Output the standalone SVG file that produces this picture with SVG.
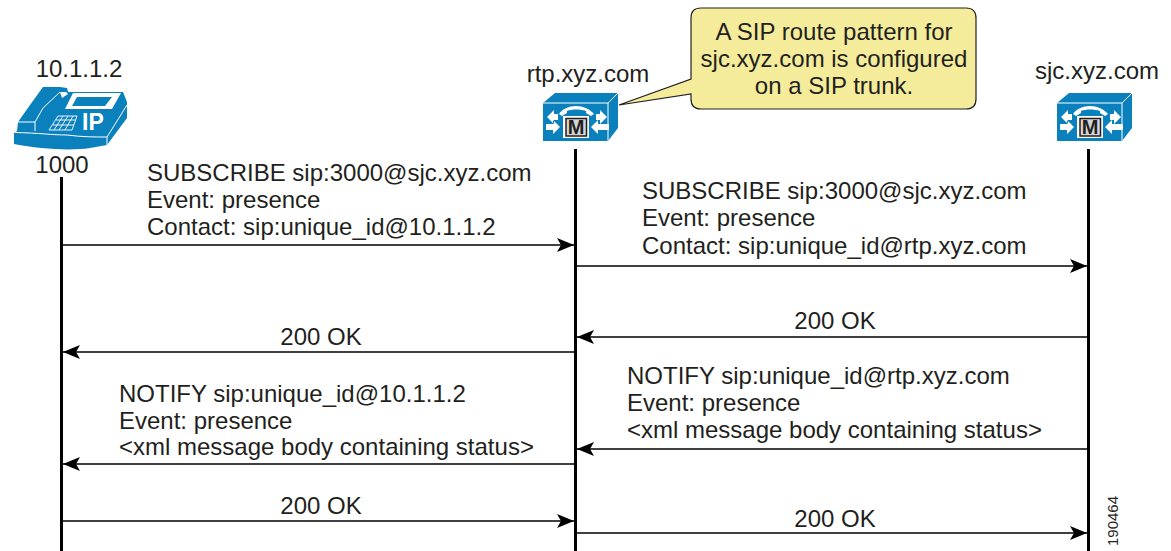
<svg xmlns="http://www.w3.org/2000/svg" width="1171" height="551" viewBox="0 0 1171 551">
<style>
text{font-family:"Liberation Sans",Arial,sans-serif;font-size:24px;fill:#231f20}
.m{text-anchor:middle}
.life{stroke:#000;stroke-width:3;fill:none}
.msg{stroke:#000;stroke-width:1.4;fill:none;marker-end:url(#ah)}
.b{fill:#0a81bd}
.w{fill:#fff}
.ln{stroke:#fff;stroke-width:1;fill:none}
</style>
<defs>
<marker id="ah" markerUnits="userSpaceOnUse" markerWidth="18" markerHeight="14" refX="17" refY="7" orient="auto-start-reverse"><path d="M0 0L17 7L0 14L4 7Z" fill="#000"/></marker>
<g id="srv">
<path class="b" d="M0 10L12 0H75V35L65 48H0Z"/>
<path class="ln" d="M0 10H65L75 0M65 10V48"/>
<path class="w" d="M4 24L11 17V21H15V27H11V31ZM64 24L57 17V21H53V27H57V31ZM17 34L10 27V31H3V37H10V41ZM48 34L55 27V31H66V37H55V41Z"/>
<path class="w" d="M16 21C19 16 26 13 33 13C40 13 47 16 51 21L48 23L43 20V18C37 16 29 16 24 18V20L19 23Z"/>
<rect class="w" x="20" y="23" width="26" height="22"/>
<rect x="23" y="25.500" width="20.500" height="17.500" fill="#d5d5d5" stroke="#231f20" stroke-width="1.500"/>
<text x="33.200" y="41" class="m" style="font-size:20px;font-weight:bold">M</text>
</g>
</defs>
<g id="connectors">
<path class="life" d="M61.500 177V551M575.500 149V551M1088.500 149V551"/>
<path class="msg" d="M62 245H574"/>
<path class="msg" d="M576 266H1087"/>
<path class="msg" d="M1088 337H577"/>
<path class="msg" d="M575 352H63"/>
<path class="msg" d="M1088 449H577"/>
<path class="msg" d="M575 464H63"/>
<path class="msg" d="M62 521H574"/>
<path class="msg" d="M576 533H1087"/>
</g>
<g id="phone">
<path class="b" d="M14 133V144C40 149 70 151 90 148L107 145L127 118V102L123 92H68L67 88L60 87H43L30 105L18 122L17 131Z"/>
<path class="ln" d="M15 132.500C40 133 52 135 67 135C82 137 95 137 107 137L127 105M107 137V145M18 122H35V131M35 122L43 108L60 92"/>
<path class="w" d="M65 109L73 93H121L112 109Z"/>
<path class="b" d="M72 106L77 97H112L105 106Z"/>
<path class="w" d="M60 92L66 92L68 94L62 98Z"/>
<path class="ln" style="stroke-width:.9" d="M49 130L58 116H77L72 130ZM56 120H76M53 125H74M63 116L54 130M68 116L59 130M73 116L65 130"/>
<text x="82" y="130" style="font-size:23px;font-weight:bold;fill:#fff">IP</text>
</g>
<g id="rtp"><use href="#srv" x="543" y="93"/></g>
<g id="sjc"><use href="#srv" x="1057" y="93"/></g>
<g id="callout">
<path d="M691 18Q691 8 701 8H966Q976 8 976 18V99Q976 109 966 109H701Q691 109 691 99V94L619 105L691 79Z" fill="#f4ec9b" stroke="#231f20" stroke-width="1.200"/>
<text x="834" y="40" class="m">A SIP route pattern for</text>
<text x="834" y="67" class="m">sjc.xyz.com is configured</text>
<text x="834" y="94" class="m">on a SIP trunk.</text>
</g>
<text x="79" y="77" class="m">10.1.1.2</text>
<text x="62" y="173" class="m">1000</text>
<text x="588" y="82" class="m">rtp.xyz.com</text>
<text x="1097" y="79" class="m">sjc.xyz.com</text>
<text x="147" y="181">SUBSCRIBE sip:3000@sjc.xyz.com</text>
<text x="147" y="208">Event: presence</text>
<text x="147" y="235">Contact: sip:unique_id@10.1.1.2</text>
<text x="642" y="199">SUBSCRIBE sip:3000@sjc.xyz.com</text>
<text x="642" y="226">Event: presence</text>
<text x="642" y="254">Contact: sip:unique_id@rtp.xyz.com</text>
<text x="835" y="329" class="m">200 OK</text>
<text x="321" y="345" class="m">200 OK</text>
<text x="627" y="384">NOTIFY sip:unique_id@rtp.xyz.com</text>
<text x="627" y="411">Event: presence</text>
<text x="627" y="438">&lt;xml message body containing status&gt;</text>
<text x="119" y="402">NOTIFY sip:unique_id@10.1.1.2</text>
<text x="119" y="429">Event: presence</text>
<text x="119" y="455">&lt;xml message body containing status&gt;</text>
<text x="321" y="514" class="m">200 OK</text>
<text x="835" y="527" class="m">200 OK</text>
<text transform="translate(1118 546) rotate(-90)" style="font-size:15px">190464</text>
</svg>
